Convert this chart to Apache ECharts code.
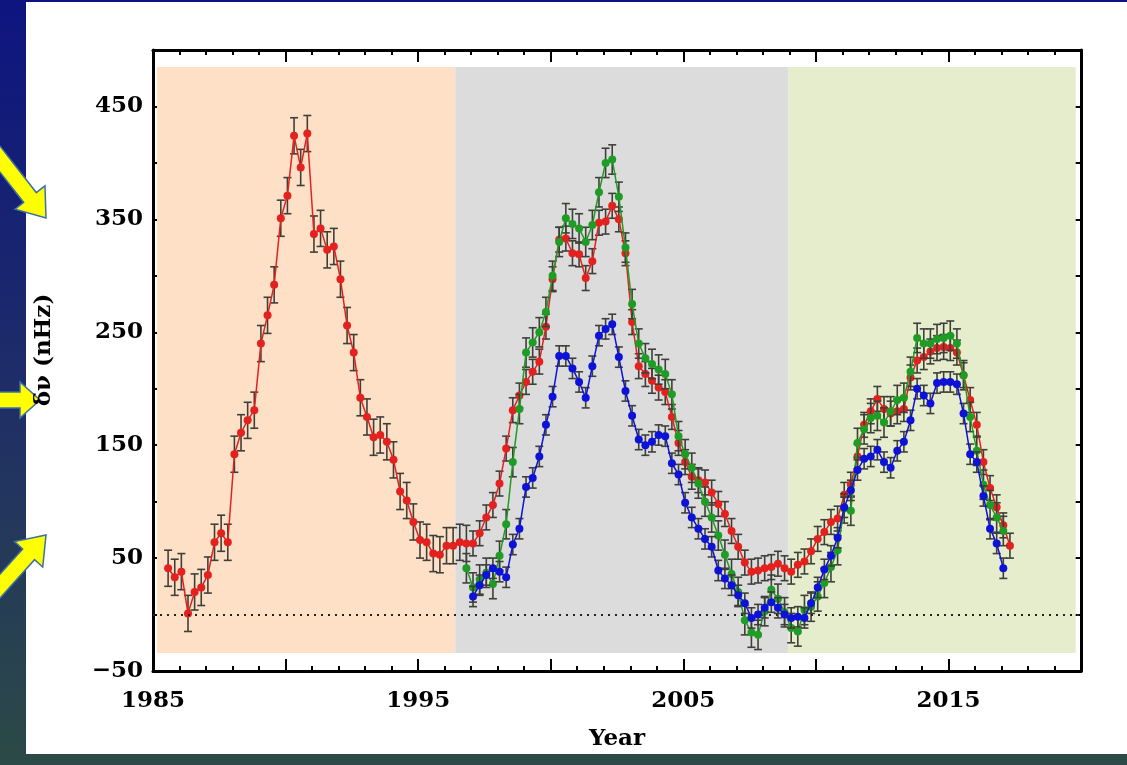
<!DOCTYPE html>
<html>
<head>
<meta charset="utf-8">
<title>Frequency shifts</title>
<script src="https://cdn.jsdelivr.net/npm/echarts/dist/echarts.min.js"></script>
<style>
  html, body { margin: 0; padding: 0; background: #fff; }
  #chart { width: 1127px; height: 765px; }
</style>
</head>
<body>
<div id="chart"></div>
<script>
// Sampling grid: one point every quarter year, index 0 at START_YEAR
const START_YEAR = 1985.57;
const CADENCE = 0.25;

// Frequency shift (nHz), red record from index 0
const redValues = [
  41, 33, 38, 1, 20, 24, 35, 64, 72, 64,
  142, 161, 172, 181, 240, 265, 292, 351, 371, 424,
  396, 426, 337, 342, 323, 326, 297, 256, 232, 192,
  175, 157, 159, 153, 137, 109, 101, 82, 66, 64,
  54, 53, 61, 61, 64, 63, 63, 72, 86, 97,
  116, 147, 181, 194, 206, 215, 224, 255, 297, 332,
  333, 320, 319, 298, 313, 347, 348, 362, 350, 320,
  259, 220, 213, 207, 201, 197, 175, 152, 135, 122,
  119, 117, 108, 98, 89, 74, 60, 46, 38, 39,
  41, 42, 45, 41, 38, 44, 47, 56, 67, 73,
  82, 85, 106, 115, 140, 168, 180, 191, 182, 178,
  180, 182, 210, 225, 228, 233, 236, 237, 236, 232,
  212, 190, 168, 135, 112, 95, 79, 61
];

// Green record starts at grid index 45
const greenStartIndex = 45;
const greenValues = [
  41, 24, 31, 37, 27,
  52, 80, 135, 182, 232, 241, 250, 268, 300, 330,
  351, 346, 342, 330, 345, 374, 400, 403, 370, 325,
  275, 240, 227, 222, 217, 213, 195, 158, 142, 130,
  116, 100, 86, 70, 53, 36, 20, -5, -16, -18,
  3, 22, 14, 2, -12, -15, 4, 7, 16, 28,
  42, 57, 94, 92, 152, 164, 174, 176, 170, 180,
  190, 192, 215, 245, 240, 240, 244, 245, 247, 240,
  212, 175, 145, 115, 97, 86, 74
];

// Blue record starts at grid index 46
const blueStartIndex = 46;
const blueValues = [
  16, 26, 35, 41,
  38, 33, 62, 76, 113, 121, 140, 168, 193, 229,
  229, 218, 206, 192, 220, 247, 253, 257, 228, 198,
  176, 155, 150, 153, 159, 158, 134, 124, 99, 86,
  76, 67, 60, 39, 32, 26, 17, 10, -3, 0,
  6, 11, 6, 0, -3, -2, -3, 10, 24, 40,
  52, 68, 95, 110, 128, 138, 140, 146, 135, 130,
  145, 153, 172, 200, 194, 187, 205, 206, 206, 204,
  178, 142, 135, 105, 76, 63, 41
];

// One-sigma error (nHz): red has a larger error before index 46
const redSigmaEarly = 16;
const redSigmaLate = 11;
const redSigmaSplitIndex = 46;
const greenSigma = 13;
const blueSigma = 9;

// Shaded epochs [start year, end year] and their vertical extent (nHz)
const epochBands = [[1985.15, 1996.4], [1996.4, 2008.97], [2008.97, 2019.8]];
const epochColors = ['#fde0c6', '#dcdcdc', '#e6edcd'];
const epochRange = [-34, 485];

// Axis tick labels
const xTickLabels = [1985, 1995, 2005, 2015];
const yTickLabels = [-50, 50, 150, 250, 350, 450];

const COLORS = { red: '#e3211f', green: '#1f9c25', blue: '#0d12d6', err: '#3f3f3a' };
const FONT = 'DejaVu Serif';

function toPoints(startIndex, values) {
  return values.map((v, k) => [Number((START_YEAR + CADENCE * (startIndex + k)).toFixed(3)), v]);
}

const redPoints = toPoints(0, redValues);
const greenPoints = toPoints(greenStartIndex, greenValues);
const bluePoints = toPoints(blueStartIndex, blueValues);

function errorBars(points, sigmaOf, z) {
  return {
    type: 'custom',
    silent: true,
    z: z,
    data: points.map((p, i) => [p[0], p[1] - sigmaOf(i), p[1] + sigmaOf(i)]),
    encode: { x: 0, y: [1, 2] },
    renderItem: function (params, api) {
      const x = api.value(0);
      const lo = api.coord([x, api.value(1)]);
      const hi = api.coord([x, api.value(2)]);
      const cap = 4;
      const st = { stroke: COLORS.err, lineWidth: 1.6 };
      return {
        type: 'group',
        children: [
          { type: 'line', shape: { x1: lo[0], y1: lo[1], x2: hi[0], y2: hi[1] }, style: st },
          { type: 'line', shape: { x1: lo[0] - cap, y1: lo[1], x2: lo[0] + cap, y2: lo[1] }, style: st },
          { type: 'line', shape: { x1: hi[0] - cap, y1: hi[1], x2: hi[0] + cap, y2: hi[1] }, style: st }
        ]
      };
    }
  };
}

function dataLine(name, points, color, z) {
  return {
    name: name,
    type: 'line',
    data: points,
    z: z,
    symbol: 'circle',
    symbolSize: 8,
    showSymbol: true,
    lineStyle: { color: color, width: 1.5 },
    itemStyle: { color: color },
    emphasis: { disabled: true },
    silent: true
  };
}

// Slide arrows on the left margin
function arrowShape(tipX, tipY, angleDeg, length, shaftHalf, headLen, headHalf) {
  const a = angleDeg * Math.PI / 180;
  const ux = Math.cos(a), uy = Math.sin(a);
  const nx = -uy, ny = ux;
  const bx = tipX - ux * headLen, by = tipY - uy * headLen;
  const tx = tipX - ux * length, ty = tipY - uy * length;
  return [
    [tx + nx * shaftHalf, ty + ny * shaftHalf],
    [bx + nx * shaftHalf, by + ny * shaftHalf],
    [bx + nx * headHalf, by + ny * headHalf],
    [tipX, tipY],
    [bx - nx * headHalf, by - ny * headHalf],
    [bx - nx * shaftHalf, by - ny * shaftHalf],
    [tx - nx * shaftHalf, ty - ny * shaftHalf]
  ];
}

const arrowStyle = { fill: '#ffff00', stroke: '#3d6fa6', lineWidth: 1.5 };

const tickFont = { color: '#000', fontFamily: FONT, fontWeight: 'bold', fontSize: 23 };

const chart = echarts.init(document.getElementById('chart'), null, { renderer: 'canvas' });

chart.setOption({
  animation: false,
  backgroundColor: 'transparent',
  graphic: [
    {
      type: 'rect', z: -20, silent: true,
      shape: { x: 0, y: 0, width: 1127, height: 765 },
      style: {
        fill: new echarts.graphic.LinearGradient(0, 0, 0, 1, [
          { offset: 0, color: '#0e1480' },
          { offset: 0.5, color: '#1e2d68' },
          { offset: 1, color: '#2c4a46' }
        ])
      }
    },
    {
      type: 'rect', z: -19, silent: true,
      shape: { x: 26, y: 2, width: 1101, height: 752 },
      style: { fill: '#ffffff' }
    },
    { type: 'polygon', z: 50, silent: true, shape: { points: arrowShape(46, 218, 52, 110, 8, 26, 19) }, style: arrowStyle },
    { type: 'polygon', z: 50, silent: true, shape: { points: arrowShape(40, 400, 0, 60, 8, 20, 18) }, style: arrowStyle },
    { type: 'polygon', z: 50, silent: true, shape: { points: arrowShape(46, 535, -48, 120, 8, 26, 19) }, style: arrowStyle },
    {
      // y-axis title
      type: 'text', z: 50, silent: true,
      x: 44, y: 350, rotation: Math.PI / 2,
      style: {
        text: '\u03b4\u03bd (nHz)', fill: '#000',
        font: 'bold 23px "DejaVu Serif"', align: 'center', verticalAlign: 'middle'
      }
    }
  ],
  grid: { left: 153, top: 50, width: 928, height: 621, containLabel: false },
  xAxis: [
    {
      type: 'value', position: 'bottom', min: 1985, max: 2020, interval: 5,
      axisLine: { show: true, onZero: false, lineStyle: { color: '#000', width: 3 } },
      axisTick: { show: true, inside: true, length: 12, lineStyle: { color: '#000', width: 2 } },
      minorTick: { show: true, splitNumber: 5, length: 5, lineStyle: { color: '#000', width: 2 } },
      splitLine: { show: false },
      minorSplitLine: { show: false },
      axisLabel: Object.assign({
        margin: 19,
        showMaxLabel: false,
        formatter: v => (xTickLabels.indexOf(v) >= 0 ? String(v) : '')
      }, tickFont),
      name: 'Year', nameLocation: 'middle', nameGap: 57,
      nameTextStyle: { color: '#000', fontFamily: FONT, fontWeight: 'bold', fontSize: 23 }
    },
    {
      type: 'value', position: 'top', min: 1985, max: 2020, interval: 5,
      axisLine: { show: true, onZero: false, lineStyle: { color: '#000', width: 3 } },
      axisTick: { show: true, inside: true, length: 12, lineStyle: { color: '#000', width: 2 } },
      minorTick: { show: true, splitNumber: 5, length: 5, lineStyle: { color: '#000', width: 2 } },
      splitLine: { show: false },
      axisLabel: { show: false }
    }
  ],
  yAxis: [
    {
      type: 'value', position: 'left', min: -50, max: 500, interval: 100,
      axisLine: { show: true, onZero: false, lineStyle: { color: '#000', width: 3 } },
      axisTick: { show: true, inside: true, length: 11, lineStyle: { color: '#000', width: 2 } },
      minorTick: { show: true, splitNumber: 2, length: 8, lineStyle: { color: '#000', width: 2 } },
      splitLine: { show: false },
      axisLabel: Object.assign({
        margin: 10,
        showMaxLabel: false,
        formatter: v => (yTickLabels.indexOf(v) >= 0 ? String(v).replace('-', '\u2212') : '')
      }, tickFont)
    },
    {
      type: 'value', position: 'right', min: -50, max: 500, interval: 100,
      axisLine: { show: true, onZero: false, lineStyle: { color: '#000', width: 3 } },
      axisTick: { show: true, inside: true, length: 11, lineStyle: { color: '#000', width: 2 } },
      minorTick: { show: true, splitNumber: 2, length: 8, lineStyle: { color: '#000', width: 2 } },
      splitLine: { show: false },
      axisLabel: { show: false }
    }
  ],
  series: [
    {
      type: 'line', data: [], z: 1, silent: true,
      markArea: {
        silent: true,
        data: epochBands.map((b, i) => [
          { xAxis: b[0], yAxis: epochRange[0], itemStyle: { color: epochColors[i], opacity: 1 } },
          { xAxis: b[1], yAxis: epochRange[1] }
        ])
      },
      markLine: {
        silent: true, symbol: 'none', label: { show: false },
        lineStyle: { color: '#222', width: 2, type: [2, 5] },
        data: [{ yAxis: 0 }]
      }
    },
    errorBars(redPoints, i => (i < redSigmaSplitIndex ? redSigmaEarly : redSigmaLate), 2),
    dataLine('red', redPoints, COLORS.red, 3),
    errorBars(greenPoints, () => greenSigma, 4),
    dataLine('green', greenPoints, COLORS.green, 5),
    errorBars(bluePoints, () => blueSigma, 6),
    dataLine('blue', bluePoints, COLORS.blue, 7)
  ]
});
</script>
</body>
</html>
